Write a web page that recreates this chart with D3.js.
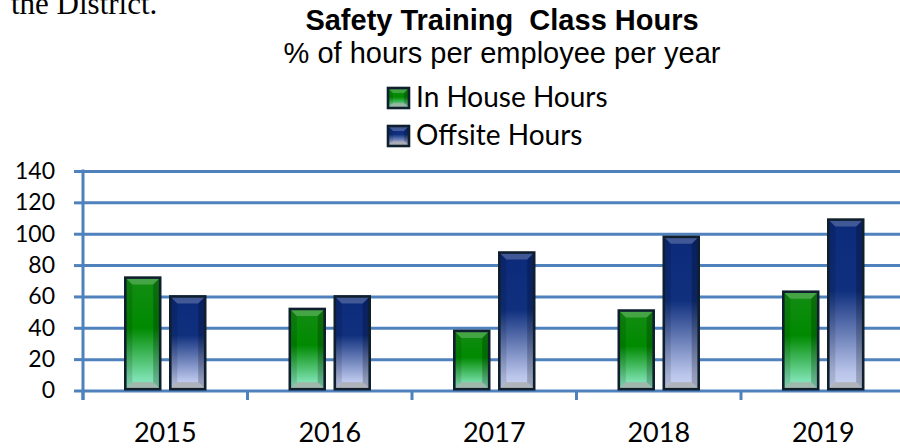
<!DOCTYPE html>
<html><head><meta charset="utf-8">
<script src="https://cdn.jsdelivr.net/npm/d3@7"></script>
<style>body{margin:0;background:#fff} svg{display:block} text{white-space:pre}</style>
</head><body><svg id="c" width="900" height="448"></svg>
<script>
const years = ["2015","2016","2017","2018","2019"];
const seriesNames = ["In House Hours","Offsite Hours"];
const inHouse = [72,52,38,51,63];
const offsite = [60,60,88,98,109];
const yTicks = [0,20,40,60,80,100,120,140];
const titleText = "Safety Training  Class Hours";
const subtitleText = "% of hours per employee per year";
const leadText = "the District.";

const svg = d3.select("#c");
const defs = svg.append("defs");
const gridColor = "#4f81bd";
const edge = "#0f1f2e";

const grads = [
  {id:"gGreen", stops:[[0,"#138c13"],[0.45,"#008a00"],[0.9,"#7be0ae"],[1,"#92e8c4"]]},
  {id:"gBlue", stops:[[0,"#0c2a7a"],[0.42,"#10307e"],[0.9,"#b9c4ea"],[1,"#cbd4f2"]]}
];
grads.forEach(g=>{
  const lg = defs.append("linearGradient").attr("id",g.id).attr("x1",0).attr("y1",0).attr("x2",0).attr("y2",1);
  g.stops.forEach(s=>lg.append("stop").attr("offset",s[0]).attr("stop-color",s[1]));
});
const fills = ["url(#gGreen)","url(#gBlue)"];

// leading document text (cropped at top, as in the source)
svg.append("text").attr("x",11).attr("y",14).attr("font-family","Liberation Serif, Times New Roman, serif")
  .attr("font-size",31).attr("fill","#000").text(leadText);

// title
svg.append("text").attr("x",502).attr("y",30).attr("text-anchor","middle")
  .attr("font-family","Liberation Sans, Arial, sans-serif").attr("font-weight","bold")
  .attr("font-size",29).attr("fill","#000").attr("xml:space","preserve").text(titleText);
svg.append("text").attr("x",502).attr("y",63).attr("text-anchor","middle")
  .attr("font-family","Liberation Sans, Arial, sans-serif")
  .attr("font-size",29).attr("fill","#000").text(subtitleText);

const x0 = d3.scaleBand().domain(years).range([83, 905.5]).paddingInner(0).paddingOuter(0);
const x1 = d3.scaleBand().domain(seriesNames).range([0, x0.bandwidth()]).paddingInner(0.167).paddingOuter(0.911);
const y = d3.scaleLinear().domain([0,140]).range([390.5,171]);

// gridlines
const grid = svg.append("g").attr("transform","translate(83,0)")
  .call(d3.axisLeft(y).tickValues(yTicks).tickSize(-(900-83)).tickFormat(""));
grid.select(".domain").remove();
grid.selectAll("line").attr("stroke",gridColor).attr("stroke-width",3);

// y axis with outside ticks and labels
const ya = svg.append("g").attr("transform","translate(83,0)")
  .call(d3.axisLeft(y).tickValues(yTicks).tickSize(9).tickPadding(19));
ya.select(".domain").remove();
ya.selectAll("line").attr("stroke",gridColor).attr("stroke-width",3);
ya.selectAll("text").attr("font-family","Lato, Carlito, sans-serif").attr("font-size",23).attr("fill","#000");
svg.append("line").attr("x1",83).attr("x2",83).attr("y1",y(140)-1.5).attr("y2",400)
  .attr("stroke",gridColor).attr("stroke-width",3);

// x axis tick marks at category boundaries
const bounds = years.map(d=>x0(d)).concat([x0(years[years.length-1])+x0.bandwidth()]);
svg.append("g").selectAll("line").data(bounds).join("line")
  .attr("x1",d=>d).attr("x2",d=>d).attr("y1",y(0)).attr("y2",400)
  .attr("stroke",gridColor).attr("stroke-width",3);

const xa = svg.append("g").attr("transform",`translate(0,${y(0)})`)
  .call(d3.axisBottom(x0).tickSize(0));
xa.select(".domain").remove();
xa.selectAll("text").attr("y",442-y(0)).attr("dy",0)
  .attr("font-family","Lato, Carlito, sans-serif").attr("font-size",27).attr("fill","#000");

function bevelBar(g, x, yy, w, h, fill, b) {
  b = Math.min(b, h/2, w/2);
  g.append("rect").attr("x",x).attr("y",yy).attr("width",w).attr("height",h).attr("fill",fill);
  const P = pts => pts.map(p=>p.join(",")).join(" ");
  g.append("polygon").attr("points",P([[x,yy],[x+b,yy+b],[x+b,yy+h-b],[x,yy+h]])).attr("fill","#000").attr("opacity",0.12);
  g.append("polygon").attr("points",P([[x+w,yy],[x+w-b,yy+b],[x+w-b,yy+h-b],[x+w,yy+h]])).attr("fill","#000").attr("opacity",0.22);
  g.append("polygon").attr("points",P([[x,yy],[x+w,yy],[x+w-b,yy+b],[x+b,yy+b]])).attr("fill","#fff").attr("opacity",0.22);
  g.append("polygon").attr("points",P([[x,yy+h],[x+w,yy+h],[x+w-b,yy+h-b],[x+b,yy+h-b]])).attr("fill","#a8aaa8").attr("opacity",0.75);
  g.append("rect").attr("x",x).attr("y",yy).attr("width",w).attr("height",h)
    .attr("fill","none").attr("stroke",edge).attr("stroke-width",2.6);
}

const seriesVals = [inHouse, offsite];
const barsG = svg.append("g");
years.forEach((yr,i)=>{
  seriesNames.forEach((s,j)=>{
    const v = seriesVals[j][i];
    const g = barsG.append("g");
    bevelBar(g, x0(yr)+x1(s)+1.3, y(v), x1.bandwidth()-2.6, y(0)-y(v)-1.3, fills[j], 7);
  });
});

// legend
const lg = svg.append("g");
seriesNames.forEach((s,j)=>{
  const ly = 88 + j*38;
  bevelBar(lg.append("g"), 388, ly, 21, 20, fills[j], 5);
  lg.append("text").attr("x",416).attr("y",ly+19).attr("font-family","Lato, Carlito, sans-serif")
    .attr("font-size",28).attr("fill","#000").text(s);
});
</script></body></html>
